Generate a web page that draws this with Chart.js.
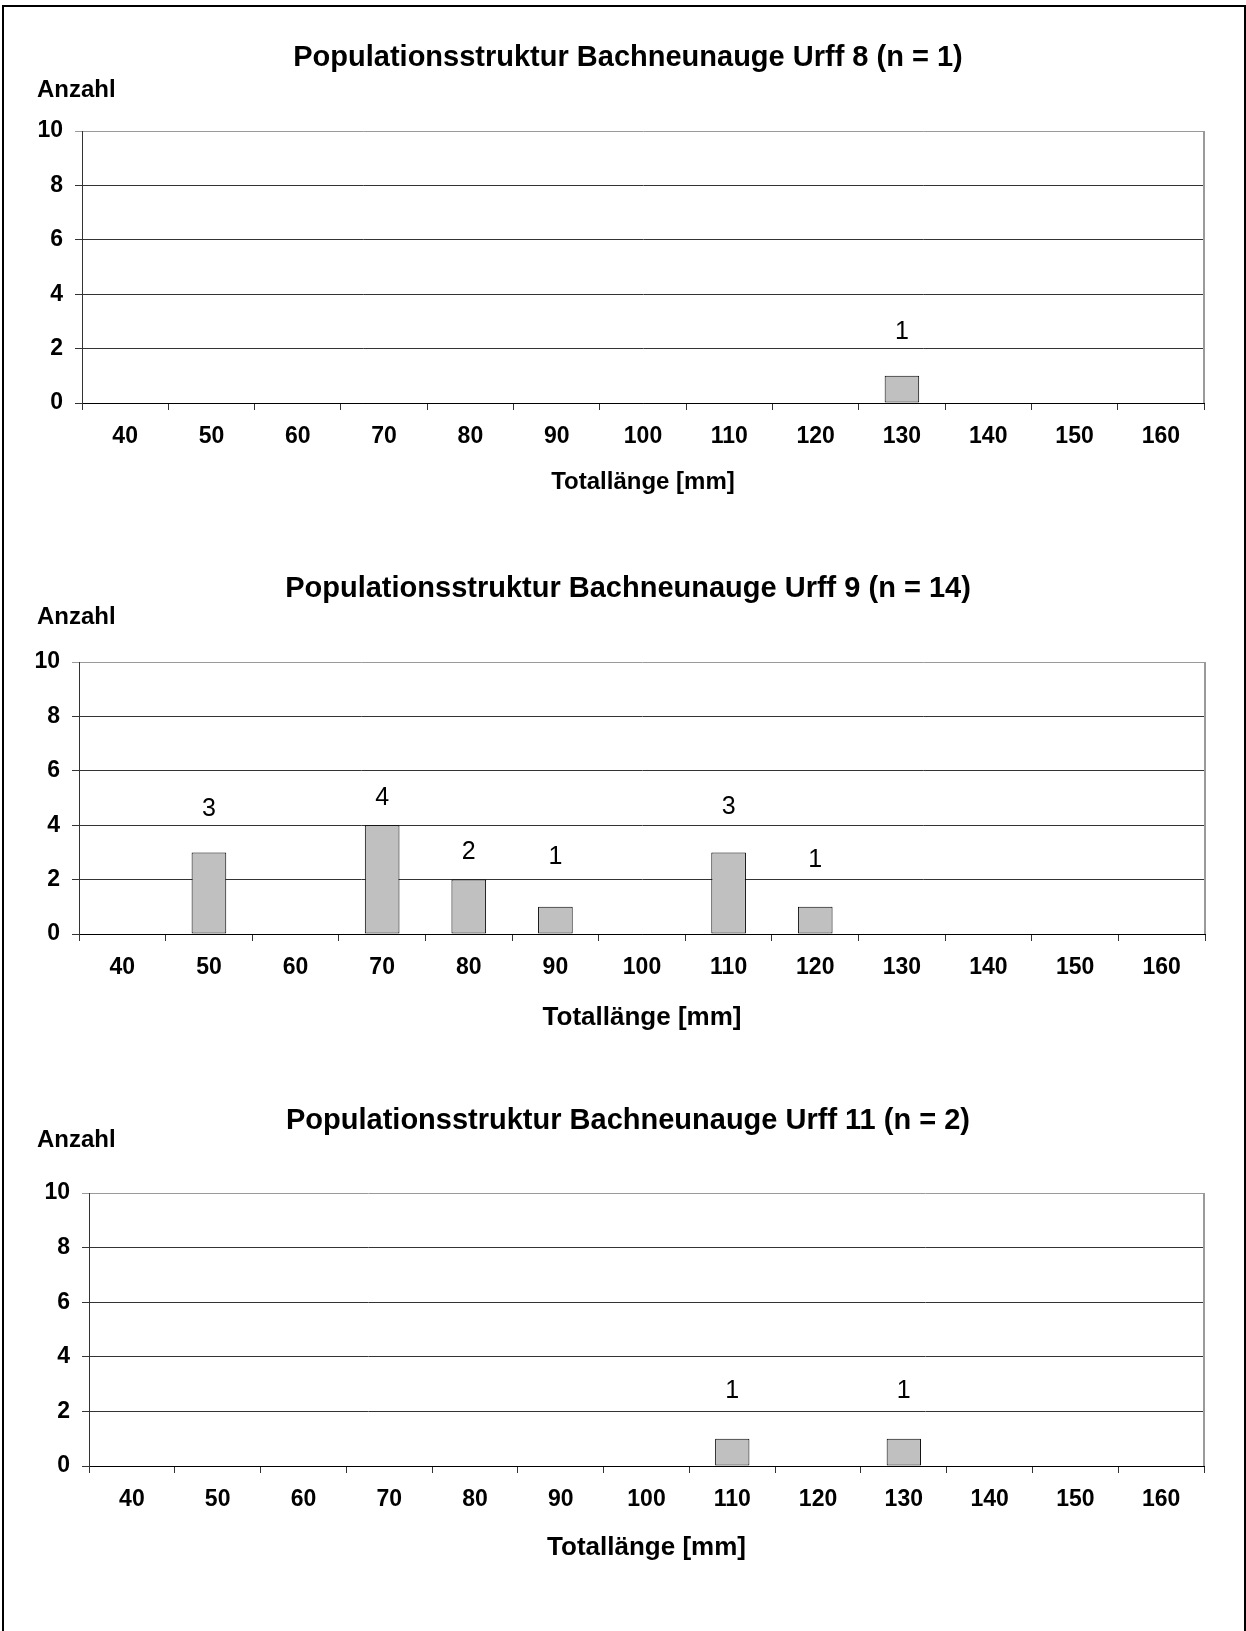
<!DOCTYPE html>
<html>
<head>
<meta charset="utf-8">
<script src="https://cdn.jsdelivr.net/npm/chart.js@4.4.1/dist/chart.umd.min.js"></script>
<style>
  html, body { margin: 0; padding: 0; background: #fff; }
  #page { position: relative; width: 1246px; height: 1631px; overflow: hidden; background: #fff; }
  #page canvas { position: absolute; left: 0; }
  #frame { position: absolute; left: 2px; top: 5px; width: 1244px; height: 1700px;
           border: 2px solid #000; box-sizing: border-box; pointer-events: none; }
</style>
</head>
<body>
<div id="page">
  <canvas id="urff8"></canvas>
  <canvas id="urff9"></canvas>
  <canvas id="urff11"></canvas>
  <div id="frame"></div>
</div>
<script>
// Length classes (Totallänge in mm) and counts per sampling site
const lengthClasses = ['40', '50', '60', '70', '80', '90', '100', '110', '120', '130', '140', '150', '160'];
const countsUrff8  = [0, 0, 0, 0, 0, 0, 0, 0, 0, 1, 0, 0, 0];
const countsUrff9  = [0, 3, 0, 4, 2, 1, 0, 3, 1, 0, 0, 0, 0];
const countsUrff11 = [0, 0, 0, 0, 0, 0, 0, 1, 0, 1, 0, 0, 0];
const yAxisMin = 0;
const yAxisMax = 10;
const yAxisStep = 2;
const titles = [
  'Populationsstruktur Bachneunauge Urff 8 (n = 1)',
  'Populationsstruktur Bachneunauge Urff 9 (n = 14)',
  'Populationsstruktur Bachneunauge Urff 11 (n = 2)'
];
const yAxisTitle = 'Anzahl';
const xAxisTitle = 'Totallänge [mm]';

const FONT = "'Liberation Sans', Arial, Helvetica, sans-serif";
const PAGE_W = 1246;

// Page layout of each panel (page pixel coordinates)
const panels = [
  { id: 'urff8', counts: countsUrff8, title: titles[0],
    canvasTop: 0, canvasH: 515,
    plot: { left: 82, top: 131, right: 1204, bottom: 403 },
    titleY: 58, yTitleY: 90, xTitleY: 482, xTitleSize: 24,
    lift: [44] },
  { id: 'urff9', counts: countsUrff9, title: titles[1],
    canvasTop: 515, canvasH: 530,
    plot: { left: 79, top: 662, right: 1205, bottom: 934 },
    titleY: 589, yTitleY: 617, xTitleY: 1018, xTitleSize: 26,
    lift: [43, 27, 27, 50, 45, 47] },
  { id: 'urff11', counts: countsUrff11, title: titles[2],
    canvasTop: 1045, canvasH: 586,
    plot: { left: 89, top: 1193, right: 1204, bottom: 1466 },
    titleY: 1121, yTitleY: 1140, xTitleY: 1548, xTitleSize: 26,
    lift: [48] }
];

// Titles, axis captions and the plot frame (right border)
const decorPlugin = {
  id: 'decor',
  afterDraw(chart, args, opts) {
    const p = opts.panel;
    const ctx = chart.ctx;
    const area = chart.chartArea;
    ctx.save();
    ctx.strokeStyle = '#9a9a9a';
    ctx.lineWidth = 2;
    ctx.beginPath();
    ctx.moveTo(area.right, area.top);
    ctx.lineTo(area.right, area.bottom);
    ctx.stroke();

    ctx.fillStyle = '#000';
    ctx.textBaseline = 'middle';
    // chart title
    ctx.font = 'bold 29px ' + FONT;
    ctx.textAlign = 'center';
    ctx.fillText(p.title, 628, p.titleY - p.canvasTop);
    // y axis caption
    ctx.font = 'bold 24px ' + FONT;
    ctx.textAlign = 'left';
    ctx.fillText(yAxisTitle, 37, p.yTitleY - p.canvasTop);
    // x axis caption
    ctx.font = 'bold ' + p.xTitleSize + 'px ' + FONT;
    ctx.textAlign = 'center';
    ctx.fillText(xAxisTitle, (area.left + area.right) / 2, p.xTitleY - p.canvasTop);
    ctx.restore();
  }
};

// Value labels above each non-empty bar
const valueLabelPlugin = {
  id: 'valueLabels',
  afterDatasetsDraw(chart, args, opts) {
    const ctx = chart.ctx;
    const meta = chart.getDatasetMeta(0);
    const data = chart.data.datasets[0].data;
    let k = 0;
    ctx.save();
    ctx.fillStyle = '#000';
    ctx.font = '25px ' + FONT;
    ctx.textAlign = 'center';
    ctx.textBaseline = 'middle';
    meta.data.forEach((bar, i) => {
      const v = data[i];
      if (!v) return;
      const lift = opts.lift[Math.min(k, opts.lift.length - 1)];
      k++;
      ctx.fillText(String(v), bar.x, bar.y - lift);
    });
    ctx.restore();
  }
};

panels.forEach(p => {
  const canvas = document.getElementById(p.id);
  canvas.width = PAGE_W;
  canvas.height = p.canvasH;
  canvas.style.width = PAGE_W + 'px';
  canvas.style.height = p.canvasH + 'px';
  canvas.style.top = p.canvasTop + 'px';

  new Chart(canvas, {
    type: 'bar',
    data: {
      labels: lengthClasses,
      datasets: [{
        data: p.counts,
        backgroundColor: '#c0c0c0',
        borderColor: '#000',
        borderWidth: 1,
        borderSkipped: false,
        barPercentage: 0.4,
        categoryPercentage: 1.0
      }]
    },
    options: {
      responsive: false,
      animation: false,
      devicePixelRatio: 1,
      layout: {
        padding: {
          left: 0,
          top: p.plot.top - p.canvasTop,
          right: PAGE_W - p.plot.right,
          bottom: 0
        }
      },
      plugins: {
        legend: { display: false },
        title: { display: false },
        tooltip: { enabled: false },
        decor: { panel: p },
        valueLabels: { lift: p.lift }
      },
      scales: {
        x: {
          type: 'category',
          offset: true,
          grid: { display: true, drawOnChartArea: false, drawTicks: true, tickLength: 7,
                  offset: true, color: '#333', lineWidth: 1 },
          border: { display: true, color: '#000', width: 1 },
          ticks: { color: '#000', font: { family: FONT, size: 23, weight: 'bold' },
                   padding: 13, maxRotation: 0, autoSkip: false },
          afterFit: s => { s.height = p.canvasTop + p.canvasH - p.plot.bottom; }
        },
        y: {
          min: yAxisMin,
          max: yAxisMax,
          grid: { color: c => (c.tick && c.tick.value === yAxisMax) ? '#9a9a9a' : '#333',
                  lineWidth: 1, tickLength: 7, drawTicks: true },
          border: { display: true, color: '#333', width: 1 },
          ticks: { stepSize: yAxisStep, color: '#000', padding: 12,
                   font: { family: FONT, size: 23, weight: 'bold' } },
          afterFit: s => { s.width = p.plot.left; }
        }
      }
    },
    plugins: [decorPlugin, valueLabelPlugin]
  });
});
</script>
</body>
</html>
